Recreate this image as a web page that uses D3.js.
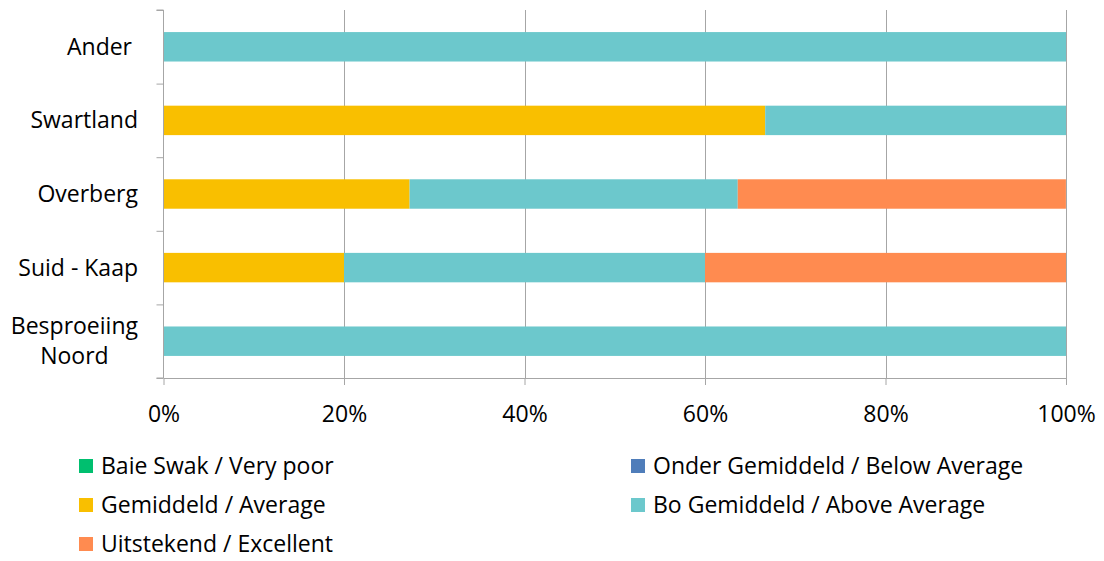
<!DOCTYPE html>
<html><head><meta charset="utf-8">
<script src="https://cdn.jsdelivr.net/npm/d3@7"></script>
<style>
body{margin:0;background:#fff;}
text{font-family:"Open Sans","Noto Sans",sans-serif;fill:#000;}
</style></head>
<body><svg id="c" width="1104" height="561"></svg>
<script>
const categories = ["Ander ", "Swartland", "Overberg", "Suid - Kaap", "Besproeiing\nNoord"];
const seriesNames = ["Baie Swak / Very poor", "Onder Gemiddeld / Below Average", "Gemiddeld / Average", "Bo Gemiddeld / Above Average", "Uitstekend / Excellent"];
const seriesColors = ["#00BF6F", "#4F7DBA", "#F9BF00", "#6CC8CC", "#FF8B50"];
const veryPoor   = [0, 0, 0, 0, 0];
const belowAvg   = [0, 0, 0, 0, 0];
const average    = [0, 66.67, 27.27, 20, 0];
const aboveAvg   = [100, 33.33, 36.36, 40, 100];
const excellent  = [0, 0, 36.36, 40, 0];
const xTicks = [0, 20, 40, 60, 80, 100];

const FS = 23;
const seriesVals = [veryPoor, belowAvg, average, aboveAvg, excellent];
const rows = categories.map((c, i) => {
  const r = {cat: c};
  seriesNames.forEach((s, j) => r[s] = seriesVals[j][i]);
  return r;
});
const stack = d3.stack().keys(seriesNames)(rows);

const svg = d3.select("#c");
const L = 163.5, R = 1066, T = 10, B = 378;
const x = d3.scaleLinear().domain([0, 100]).range([L, R]);
const y = d3.scaleBand().domain(categories).range([T, B]).paddingInner(0.6).paddingOuter(0.3);

// gridlines
svg.append("g").selectAll("line").data(xTicks.slice(1)).join("line")
  .attr("x1", d => Math.round(x(d)) + 0.5).attr("x2", d => Math.round(x(d)) + 0.5)
  .attr("y1", T).attr("y2", B)
  .attr("stroke", "#A6A6A6").attr("stroke-width", 1);

// bars
svg.append("g").selectAll("g").data(stack).join("g")
  .attr("fill", (d, i) => seriesColors[i])
  .selectAll("rect").data(d => d).join("rect")
  .attr("x", d => x(d[0])).attr("width", d => x(d[1]) - x(d[0]))
  .attr("y", d => y(d.data.cat)).attr("height", y.bandwidth());

// x axis
const xAxis = d3.axisBottom(x).tickValues(xTicks).tickFormat(d => d + "%").tickSize(7).tickSizeOuter(0);
const gx = svg.append("g").attr("transform", `translate(0,${B})`).call(xAxis);
gx.select(".domain").attr("stroke", "#A6A6A6");
gx.selectAll(".tick line").attr("stroke", "#A6A6A6");
gx.selectAll(".tick text").attr("font-size", FS).attr("y", 0).attr("dy", "1.9em")
  .attr("font-family", '"Open Sans","Noto Sans",sans-serif').attr("fill", "#000");

// y axis
const yb = d3.scaleLinear().domain([0, categories.length]).range([T, B]);
const gy = svg.append("g").attr("transform", `translate(${L},0)`)
  .call(d3.axisLeft(yb).tickValues(d3.range(0, categories.length + 1)).tickSize(7).tickFormat(""));
gy.select(".domain").attr("stroke", "#A6A6A6").attr("d", `M-7,${T}H0V${B}H-7`);
gy.selectAll(".tick line").attr("stroke", "#A6A6A6");

// category labels
const labelRight = 138;
categories.forEach(c => {
  const lines = c.split("\n");
  const cy = y(c) + y.bandwidth() / 2;
  const lh = 30;
  const t = svg.append("text").attr("font-size", FS).style("white-space", "pre");
  const spans = lines.map((ln, k) => t.append("tspan")
      .attr("y", cy + (k - (lines.length - 1) / 2) * lh).attr("dy", "0.35em").text(ln));
  if (lines.length === 1) {
    t.attr("text-anchor", "end"); spans[0].attr("x", labelRight);
  } else {
    const w = d3.max(spans, s => s.node().getComputedTextLength());
    t.attr("text-anchor", "middle");
    spans.forEach(s => s.attr("x", labelRight - w / 2));
  }
});

// legend
const legPos = [[79, 466], [631, 466], [79, 505], [631, 505], [79, 544]];
seriesNames.forEach((s, i) => {
  const [lx, ly] = legPos[i];
  svg.append("rect").attr("x", lx).attr("y", ly - 7).attr("width", 14).attr("height", 14).attr("fill", seriesColors[i]);
  svg.append("text").attr("x", lx + 22).attr("y", ly).attr("dy", "0.35em").attr("font-size", FS).text(s);
});
</script></body></html>
